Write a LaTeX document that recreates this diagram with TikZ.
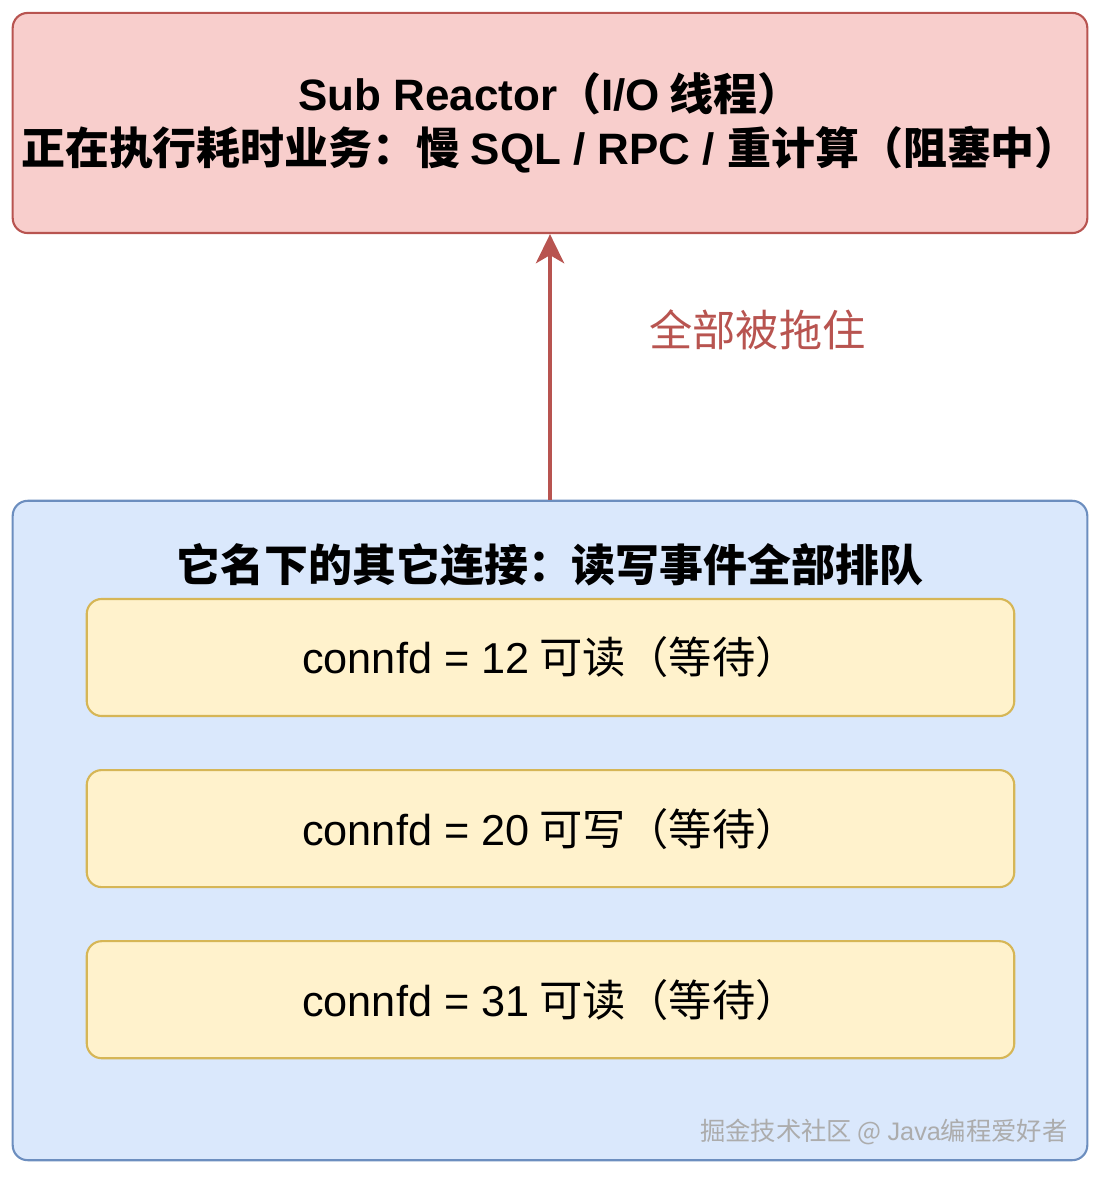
\documentclass[tikz,border=0pt]{standalone}
\usepackage{fontspec}
\setmainfont{Noto Sans CJK SC}
\newfontfamily\arialfont{Liberation Sans}
\usetikzlibrary{positioning,arrows.meta}
\definecolor{redfill}{HTML}{F8CECC}
\definecolor{redline}{HTML}{B85450}
\definecolor{bluefill}{HTML}{DAE8FC}
\definecolor{blueline}{HTML}{6C8EBF}
\definecolor{yellowfill}{HTML}{FFF2CC}
\definecolor{yellowline}{HTML}{D6B656}
\newcommand{\en}[1]{{\arialfont #1}}
\newcommand{\connwidth}{9.27cm}
\newcommand{\connheight}{1.17cm}

\begin{document}
\begin{tikzpicture}[x=0.01cm, y=-0.01cm,
  reactor/.style={draw=redline, fill=redfill, line width=0.6pt, rounded corners=0.15cm, inner xsep=1pt,
    minimum width=10.74cm, minimum height=2.2cm, align=center, font=\fontsize{12.5}{15.2}\selectfont\bfseries},
  pending/.style={draw=blueline, fill=bluefill, line width=0.6pt, rounded corners=0.15cm,
    minimum width=10.74cm, minimum height=6.59cm},
  conn/.style={draw=yellowline, fill=yellowfill, line width=0.6pt, rounded corners=0.15cm, outer sep=0pt,
    minimum width=\connwidth, minimum height=\connheight, font=\fontsize{12.3}{14}\selectfont},
  flow/.style={draw=redline, line width=1.4pt, -{Stealth[length=0.29cm, width=0.28cm, inset=0.08cm]}}]
  \useasboundingbox (0,0) rectangle (1103,1177);

  \node [reactor] (sub) at (550,123)
    {\en{Sub Reactor}（\en{I/O} 线程）\\
     正在执行耗时业务：慢 \en{SQL / RPC / }重计算（阻塞中）};

  \node [pending] (queue) at (550,830.5) {};
  \node [font=\fontsize{12.5}{14}\selectfont\bfseries] (title) at (550,565)
    {它名下的其它连接：读写事件全部排队};

  \node [conn] (conn12) at (550.5,657.5) {\en{connfd = 12} 可读（等待）};
  \node [conn, below=0.54cm of conn12] (conn20) {\en{connfd = 20} 可写（等待）};
  \node [conn, below=0.54cm of conn20] (conn31) {\en{connfd = 31} 可读（等待）};

  \draw [flow] (queue.north) -- node [pos=0.64, right=0.85cm, text=redline,
    font=\fontsize{12.3}{14}\selectfont] (stuck) {全部被拖住} (sub.south);

  % watermark
  \node [anchor=east, text=gray!65, font=\fontsize{7.2}{9}\selectfont] (mark) at (1080,1132)
    {掘金技术社区 @ \en{Java}编程爱好者};
\end{tikzpicture}
\end{document}
